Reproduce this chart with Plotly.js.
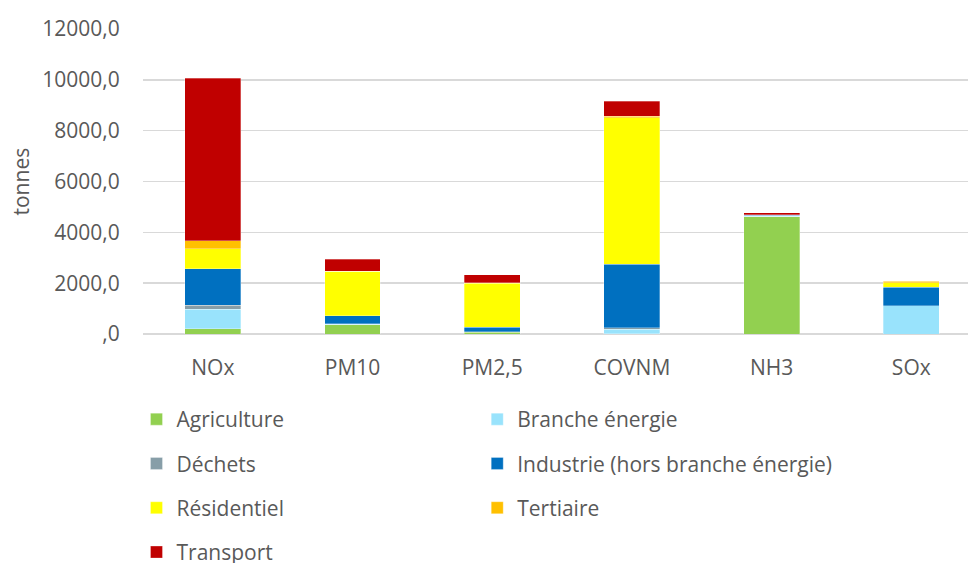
<!DOCTYPE html>
<html>
<head>
<meta charset="utf-8">
<script src="https://cdn.plot.ly/plotly-3.0.1.min.js"></script>
<style>html,body{margin:0;padding:0;background:#fff;}#chart{width:968px;height:563px;}</style>
</head>
<body>
<div id="chart"></div>
<script>
const categories = ["NOx", "PM10", "PM2,5", "COVNM", "NH3", "SOx"];
const seriesNames = ["Agriculture", "Branche énergie", "Déchets", "Industrie (hors branche énergie)", "Résidentiel", "Tertiaire", "Transport"];
const agriculture = [210, 366, 60, 10, 4620, 0];
const brancheEnergie = [760, 15, 20, 170, 5, 1110];
const dechets = [170, 13, 10, 60, 30, 5];
const industrie = [1430, 315, 180, 2510, 20, 720];
const residentiel = [775, 1759, 1720, 5750, 10, 180];
const tertiaire = [315, 10, 20, 70, 5, 65];
const transport = [6400, 470, 320, 590, 75, 10];
const yTickVals = [0, 2000, 4000, 6000, 8000, 10000, 12000];
const yTickText = [",0", "2000,0", "4000,0", "6000,0", "8000,0", "10000,0", "12000,0"];
const yTitle = "tonnes";

const seriesValues = [agriculture, brancheEnergie, dechets, industrie, residentiel, tertiaire, transport];
const colors = ["#92d050", "#99e3fc", "#879ea8", "#0070c0", "#ffff00", "#ffc000", "#c00000"];
const legendFor = ["legend", "legend2", "legend", "legend2", "legend", "legend2", "legend"];

const traces = seriesNames.map((name, i) => ({
  type: "bar",
  name: name,
  x: categories,
  y: seriesValues[i],
  marker: {color: colors[i], line: {color: "rgba(255,255,255,0.6)", width: 0.5}},
  legend: legendFor[i],
  legendgroup: "g" + i,
  hoverinfo: "skip"
}));

const font = {family: "Open Sans, sans-serif", size: 21, color: "#595959"};
const legendCommon = {
  orientation: "v",
  xref: "container", yref: "container",
  yanchor: "top", xanchor: "left",
  traceorder: "grouped",
  tracegroupgap: 14,
  font: font,
  bgcolor: "rgba(0,0,0,0)",
  borderwidth: 0
};

const layout = {
  width: 968, height: 563,
  margin: {l: 143, r: 0, t: 29, b: 229, autoexpand: false},
  paper_bgcolor: "#ffffff",
  plot_bgcolor: "#ffffff",
  barmode: "stack",
  bargap: 0.6,
  font: font,
  showlegend: true,
  xaxis: {
    type: "category",
    range: [-0.5, 5.406],
    showgrid: false,
    showline: false,
    zeroline: false,
    ticks: "outside",
    ticklen: 15,
    tickcolor: "rgba(0,0,0,0)",
    tickangle: 0,
    automargin: false,
    tickfont: font
  },
  yaxis: {
    range: [0, 12000],
    tickvals: yTickVals,
    ticktext: yTickText,
    showgrid: true,
    gridcolor: "#d9d9d9",
    gridwidth: 1.5,
    zeroline: true,
    zerolinecolor: "#d9d9d9",
    zerolinewidth: 1.5,
    showline: false,
    ticks: "outside",
    ticklen: 18,
    tickcolor: "rgba(0,0,0,0)",
    automargin: false,
    tickfont: font
  },
  annotations: [{
    text: yTitle,
    xref: "paper", yref: "paper",
    x: -123 / 825, y: 0.5,
    xanchor: "center", yanchor: "middle",
    textangle: -90,
    showarrow: false,
    font: font
  }],
  legend: Object.assign({}, legendCommon, {x: 0.141, y: 1 - 399 / 563}),
  legend2: Object.assign({}, legendCommon, {x: 0.493, y: 1 - 399 / 563})
};

Plotly.newPlot("chart", traces, layout, {displayModeBar: false, staticPlot: true});
</script>
</body>
</html>
